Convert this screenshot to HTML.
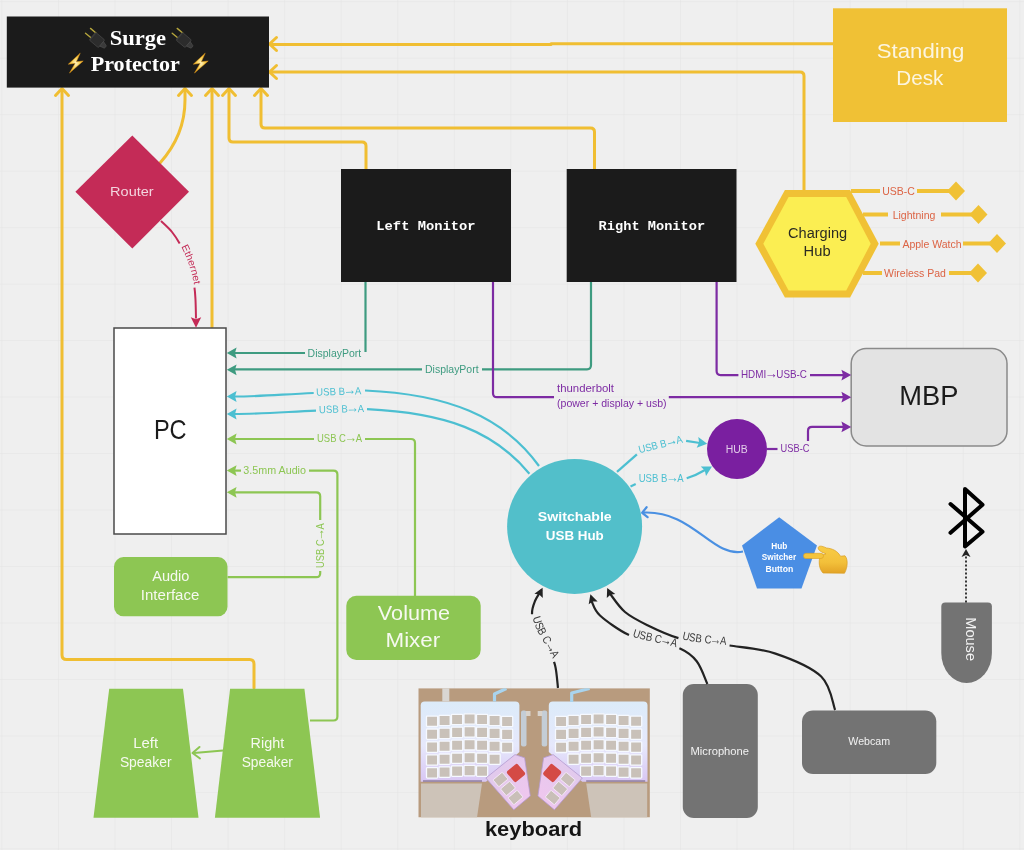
<!DOCTYPE html>
<html><head><meta charset="utf-8">
<style>
html,body{margin:0;padding:0;background:#efefef;width:1024px;height:850px;overflow:hidden}
svg{display:block;will-change:transform}
text{font-family:"Liberation Sans",sans-serif}
.mono{font-family:"Liberation Mono",monospace}
.serif{font-family:"Liberation Serif",serif}
</style></head><body>
<svg width="1024" height="850" viewBox="0 0 1024 850">
<defs>
<pattern id="grid" x="1.4" y="1.2" width="56.55" height="56.48" patternUnits="userSpaceOnUse">
<path d="M0,0 V56.48 M0,0 H56.55" stroke="#e4e4e4" stroke-width="1.2" fill="none"/>
</pattern>
</defs>
<rect x="0" y="0" width="1024" height="850" fill="#efefef"/>
<rect x="0" y="0" width="1024" height="850" fill="url(#grid)"/>

<!-- ============ YELLOW POWER LINES ============ -->
<g fill="none" stroke="#f0be32" stroke-width="3" stroke-linecap="round" stroke-linejoin="round">
<path d="M833,43.7 H551 V44.5 H272"/>
<path d="M804,190 V76 Q804,72 800,72 H272"/>
<path d="M594.5,169 V132 Q594.5,128 590.5,128 H265 Q261,128 261,124 V91"/>
<path d="M366,169 V146 Q366,142 362,142 H233 Q229,142 229,138 V91"/>
<path d="M212,327 V91"/>
<path d="M160,163 Q185,135 185,100 V91"/>
<path d="M254,688 V664 Q254,659.5 249.5,659.5 H66.5 Q62,659.5 62,655 V91"/>
<!-- arrowheads -->
<path d="M276.5,37.5 L269.5,44 L276.5,50.5"/>
<path d="M276.5,65.5 L269.5,72 L276.5,78.5"/>
<path d="M254.5,95.5 L261,88.5 L267.5,95.5"/>
<path d="M222.5,95.5 L229,88.5 L235.5,95.5"/>
<path d="M205.5,95.5 L212,88.5 L218.5,95.5"/>
<path d="M178.5,95.5 L185,88.5 L191.5,95.5"/>
<path d="M55.5,95.5 L62,88.5 L68.5,95.5"/>
</g>

<!-- ============ BOXES ============ -->
<rect x="6.8" y="16.5" width="262.2" height="71.1" fill="#1b1b1b"/>
<text x="109.67" y="44.7" font-size="20.5" class="serif" font-weight="bold" fill="#fff" textLength="56.39" lengthAdjust="spacingAndGlyphs">Surge</text>
<text x="90.67" y="70.5" font-size="20.5" class="serif" font-weight="bold" fill="#fff" textLength="89.26" lengthAdjust="spacingAndGlyphs">Protector</text>
<rect x="341" y="169" width="170" height="113" fill="#1b1b1b"/>
<text x="376.32" y="229.6" font-size="13.5" class="mono" font-weight="bold" fill="#fff" textLength="99.26" lengthAdjust="spacingAndGlyphs">Left Monitor</text>
<rect x="566.7" y="169" width="169.8" height="113" fill="#1b1b1b"/>
<text x="598.61" y="229.6" font-size="13.5" class="mono" font-weight="bold" fill="#fff" textLength="106.56" lengthAdjust="spacingAndGlyphs">Right Monitor</text>
<rect x="833" y="8.3" width="174" height="113.7" fill="#f0c135"/>
<text x="876.80" y="57.5" font-size="21" fill="#fcf5e0" textLength="87.59" lengthAdjust="spacingAndGlyphs">Standing</text>
<text x="896.35" y="84.9" font-size="21" fill="#fcf5e0" textLength="47.12" lengthAdjust="spacingAndGlyphs">Desk</text>
<polygon points="132.3,135.5 189,191.7 132.3,248.6 75.4,191.7" fill="#c42b57"/>
<text x="110.14" y="195.8" font-size="13.5" fill="#f3d5de" textLength="43.53" lengthAdjust="spacingAndGlyphs">Router</text>
<rect x="114" y="328" width="112" height="206" fill="#fff" stroke="#4a4a4a" stroke-width="1.5"/>
<text x="153.92" y="438.7" font-size="27.5" fill="#1b1b1b" textLength="32.71" lengthAdjust="spacingAndGlyphs">PC</text>
<rect x="114" y="557.1" width="113.5" height="59.1" rx="9.5" fill="#8dc653"/>
<text x="152.20" y="581" font-size="14" fill="#f6f9f0" textLength="37.22" lengthAdjust="spacingAndGlyphs">Audio</text>
<text x="140.85" y="599.9" font-size="14" fill="#f6f9f0" textLength="58.47" lengthAdjust="spacingAndGlyphs">Interface</text>
<rect x="346.3" y="595.8" width="134.4" height="64.2" rx="10" fill="#8dc653"/>
<text x="377.89" y="619.8" font-size="20.5" fill="#f6f9f0" textLength="72.19" lengthAdjust="spacingAndGlyphs">Volume</text>
<text x="385.51" y="647.2" font-size="20.5" fill="#f6f9f0" textLength="54.71" lengthAdjust="spacingAndGlyphs">Mixer</text>
<polygon points="109.2,688.7 183,688.7 198.5,817.8 93.5,817.8" fill="#8dc653"/>
<text x="133.31" y="748" font-size="14" fill="#f6f9f0" textLength="24.81" lengthAdjust="spacingAndGlyphs">Left</text>
<text x="119.88" y="766.5" font-size="14" fill="#f6f9f0" textLength="51.63" lengthAdjust="spacingAndGlyphs">Speaker</text>
<polygon points="230.1,688.7 304.4,688.7 320.1,817.8 214.9,817.8" fill="#8dc653"/>
<text x="250.55" y="748" font-size="14" fill="#f6f9f0" textLength="33.59" lengthAdjust="spacingAndGlyphs">Right</text>
<text x="241.68" y="766.5" font-size="14" fill="#f6f9f0" textLength="51.22" lengthAdjust="spacingAndGlyphs">Speaker</text>
<rect x="851.2" y="348.6" width="155.8" height="97.3" rx="15" fill="#e3e3e3" stroke="#8a8a8a" stroke-width="1.5"/>
<text x="899.21" y="404.7" font-size="27" fill="#1b1b1b" textLength="59.21" lengthAdjust="spacingAndGlyphs">MBP</text>
<polygon points="755.3,243.8 784.9,190 850.1,190 878.7,243.8 850.1,297.6 784.9,297.6" fill="#f0c135"/>
<polygon points="763.3,243.8 788.6,197 846.2,197 870.7,243.8 846.2,290.6 788.6,290.6" fill="#fbee52"/>
<text x="788.02" y="237.6" font-size="14" fill="#2b2b22" textLength="59.15" lengthAdjust="spacingAndGlyphs">Charging</text>
<text x="803.62" y="256.3" font-size="14" fill="#2b2b22" textLength="26.96" lengthAdjust="spacingAndGlyphs">Hub</text>
<circle cx="574.6" cy="526.4" r="67.5" fill="#52bfca"/>
<text x="537.88" y="521.1" font-size="13.5" font-weight="bold" fill="#fff" textLength="73.83" lengthAdjust="spacingAndGlyphs">Switchable</text>
<text x="545.80" y="539.6" font-size="13.5" font-weight="bold" fill="#fff" textLength="57.98" lengthAdjust="spacingAndGlyphs">USB Hub</text>
<circle cx="737" cy="449" r="30" fill="#7a1fa0"/>
<text x="725.77" y="452.8" font-size="10" fill="#e2cce9" textLength="21.97" lengthAdjust="spacingAndGlyphs">HUB</text>
<polygon points="779.2,517.2 817,545.5 801.5,588.5 757,588.5 742,545.5" fill="#4a8ee4"/>
<text x="771.26" y="548.8" font-size="8.3" font-weight="bold" fill="#fff" textLength="16.06" lengthAdjust="spacingAndGlyphs">Hub</text>
<text x="761.75" y="560" font-size="8.3" font-weight="bold" fill="#fff" textLength="34.35" lengthAdjust="spacingAndGlyphs">Switcher</text>
<text x="765.44" y="572" font-size="8.3" font-weight="bold" fill="#fff" textLength="27.89" lengthAdjust="spacingAndGlyphs">Button</text>
<rect x="682.8" y="684" width="75" height="134" rx="11" fill="#737373"/>
<text x="690.50" y="754.8" font-size="11" fill="#f2f2f2" textLength="58.55" lengthAdjust="spacingAndGlyphs">Microphone</text>
<rect x="802" y="710.5" width="134.3" height="63.5" rx="11" fill="#737373"/>
<text x="848.35" y="745.4" font-size="11" fill="#f2f2f2" textLength="41.82" lengthAdjust="spacingAndGlyphs">Webcam</text>
<path d="M941.3,606.6 Q941.3,602.6 945.3,602.6 H987.9 Q991.9,602.6 991.9,606.6 V653 A25.3,30 0 0 1 941.3,653 Z" fill="#737373"/>
<g transform="translate(966,0) rotate(90)"><text x="617.34" y="0" font-size="14" fill="#f2f2f2" textLength="43.67" lengthAdjust="spacingAndGlyphs">Mouse</text></g>

<!-- ============ CONNECTIONS ============ -->
<g class="lbl" font-size="10.5" paint-order="stroke" stroke="#efefef" stroke-width="7" stroke-linejoin="round">
</g>
<!-- teal displayport -->
<g fill="none" stroke="#3e9b80" stroke-width="2.2">
<path d="M365.5,282 V352"/>
<path d="M305,353 H234"/>
<path d="M591,282 V365 Q591,369.3 587,369.3 H482"/>
<path d="M422,369.3 H234"/>
</g>
<g fill="#3e9b80">
<path d="M226.8,353.0 L236.6,347.6 L235.0,353.0 L236.6,358.4 Z"/>
<path d="M226.8,369.8 L236.6,364.4 L235.0,369.8 L236.6,375.2 Z"/>
</g>
<g font-size="10.5" fill="#3e9b80">
<text x="307.6" y="356.8" textLength="53.6" lengthAdjust="spacingAndGlyphs">DisplayPort</text>
<text x="425" y="373.4" textLength="53.6" lengthAdjust="spacingAndGlyphs">DisplayPort</text>
</g>
<!-- cyan usb b -->
<g fill="none" stroke="#4cbfd1" stroke-width="2.2">
<path d="M539,466 C503,416 447,394 365,390.5"/>
<path d="M313.7,393 C280,394.5 260,396.5 234,396.5"/>
<path d="M529.4,473.7 C494,431 446,413 367,409.2"/>
<path d="M316,410.6 C285,412 260,414 234,414"/>
<path d="M617,471.8 L636.9,454.3"/>
<path d="M686.1,440.8 L700,443"/>
<path d="M630.5,486.5 L635.7,484.1"/>
<path d="M686.7,478.3 C694,476 700,473 705,470"/>
</g>
<g fill="#4cbfd1">
<path d="M226.8,396.5 L236.6,391.1 L235.0,396.5 L236.6,401.9 Z"/>
<path d="M226.8,414.0 L236.6,408.6 L235.0,414.0 L236.6,419.4 Z"/>
<path d="M707.2,443.8 L696.7,447.7 L699.1,442.6 L698.3,437.0 Z"/>
<path d="M712.0,466.6 L706.0,476.1 L704.8,470.6 L700.8,466.6 Z"/>
</g>
<g font-size="10.5" fill="#4cbfd1">
<text x="338.7" y="395" text-anchor="middle" textLength="45" lengthAdjust="spacingAndGlyphs" transform="rotate(-2 338.7 391)">USB B<tspan font-size="14" dx="-1.6">→</tspan><tspan dx="-1.6">A</tspan></text>
<text x="341.5" y="412.6" text-anchor="middle" textLength="45" lengthAdjust="spacingAndGlyphs" transform="rotate(-1.5 341.5 409)">USB B<tspan font-size="14" dx="-1.6">→</tspan><tspan dx="-1.6">A</tspan></text>
<text x="660.3" y="448" text-anchor="middle" textLength="45" lengthAdjust="spacingAndGlyphs" transform="rotate(-14 660.3 444)">USB B<tspan font-size="14" dx="-1.6">→</tspan><tspan dx="-1.6">A</tspan></text>
<text x="661.2" y="482.4" text-anchor="middle" textLength="45" lengthAdjust="spacingAndGlyphs">USB B<tspan font-size="14" dx="-1.6">→</tspan><tspan dx="-1.6">A</tspan></text>
</g>
<!-- green -->
<g fill="none" stroke="#8dc653" stroke-width="2.2">
<path d="M415,596 V443 Q415,439 411,439 H365"/>
<path d="M314,439 H234"/>
<path d="M310,720.5 H333.4 Q337.4,720.5 337.4,716.5 V474.6 Q337.4,470.6 333.4,470.6 H309"/>
<path d="M241,470.6 H234"/>
<path d="M227.6,577.2 H316.2 Q320.2,577.2 320.2,573.2 V571"/>
<path d="M320.2,520 V496.3 Q320.2,492.3 316.2,492.3 H234"/>
<path d="M223,750.5 L194,753"/>
</g>
<g fill="#8dc653">
<path d="M226.8,439.0 L236.6,433.6 L235.0,439.0 L236.6,444.4 Z"/>
<path d="M226.8,470.6 L236.6,465.2 L235.0,470.6 L236.6,476.0 Z"/>
<path d="M226.8,492.3 L236.6,486.9 L235.0,492.3 L236.6,497.7 Z"/>
</g>
<path d="M199.5,747 L192.5,753 L200,758.5" fill="none" stroke="#8dc653" stroke-width="2" stroke-linecap="round" stroke-linejoin="round"/>
<g font-size="10.5" fill="#8dc653">
<text x="339.5" y="442" text-anchor="middle" textLength="45" lengthAdjust="spacingAndGlyphs">USB C<tspan font-size="14" dx="-1.6">→</tspan><tspan dx="-1.6">A</tspan></text>
<text x="243.3" y="474.2" textLength="62.7" lengthAdjust="spacingAndGlyphs">3.5mm Audio</text>
<text x="0" y="0" text-anchor="middle" textLength="44.7" lengthAdjust="spacingAndGlyphs" transform="translate(324,545.6) rotate(-90)">USB C<tspan font-size="14" dx="-1.6">→</tspan><tspan dx="-1.6">A</tspan></text>
</g>
<!-- purple -->
<g fill="none" stroke="#7d2ba3" stroke-width="2.2">
<path d="M493,282 V393.2 Q493,397.2 497,397.2 H554"/>
<path d="M668.8,397.2 H843"/>
<path d="M716.6,282 V371.1 Q716.6,375.1 720.6,375.1 H738.4"/>
<path d="M810,375.1 H843"/>
<path d="M766.6,449 H777.5"/>
<path d="M808,441 V430.9 Q808,426.9 812,426.9 H843"/>
</g>
<g fill="#7d2ba3">
<path d="M851.2,375.1 L841.4,380.5 L843.0,375.1 L841.4,369.7 Z"/>
<path d="M851.2,397.2 L841.4,402.6 L843.0,397.2 L841.4,391.8 Z"/>
<path d="M851.2,426.9 L841.4,432.3 L843.0,426.9 L841.4,421.5 Z"/>
</g>
<g font-size="10.5" fill="#7d2ba3">
<text x="741" y="378.2" textLength="66" lengthAdjust="spacingAndGlyphs">HDMI<tspan font-size="14" dx="-1.6">→</tspan><tspan dx="-1.6">USB-C</tspan></text>
<text x="557" y="392.3" textLength="57" lengthAdjust="spacingAndGlyphs">thunderbolt</text>
<text x="557" y="407.3" textLength="109.6" lengthAdjust="spacingAndGlyphs">(power + display + usb)</text>
<text x="780.6" y="452.4" textLength="28.8" lengthAdjust="spacingAndGlyphs">USB-C</text>
</g>
<!-- red ethernet + black usb c -->
<path id="ethp" d="M161.0,221.0 C162.8,222.8 168.7,227.8 172.0,232.0 C175.3,236.2 178.2,240.5 181.0,246.0 C183.8,251.5 186.8,258.5 189.0,265.0 C191.2,271.5 192.9,279.2 194.0,285.0 C195.1,290.8 195.2,294.4 195.5,300.0 C195.8,305.6 195.9,315.4 196.0,318.5" fill="none" stroke="#c42b57" stroke-width="2.0" stroke-dasharray="29.5 46.5 1000"/>
<text font-size="10" fill="#c42b57"><textPath href="#ethp" startOffset="33" textLength="40" lengthAdjust="spacingAndGlyphs" dy="4.2">Ethernet</textPath></text>
<path id="kbp" d="M541.5,590.0 C540.4,591.8 536.6,597.0 535.0,601.0 C533.4,605.0 531.7,609.2 532.0,614.0 C532.3,618.8 534.3,624.0 537.0,630.0 C539.7,636.0 545.0,644.2 548.0,650.0 C551.0,655.8 553.3,658.7 555.0,665.0 C556.7,671.3 557.5,684.2 558.0,688.0" fill="none" stroke="#222" stroke-width="2.2" stroke-dasharray="26.5 52.8 1000"/>
<text font-size="11.5" fill="#3a3a3a"><textPath href="#kbp" startOffset="30.0" textLength="45.8" lengthAdjust="spacingAndGlyphs" dy="4.6">USB C<tspan font-size="14" dx="-1.6">→</tspan><tspan dx="-1.6">A</tspan></textPath></text>
<path id="micp" d="M591.5,601.0 C592.9,603.4 593.9,609.9 600.0,615.5 C606.1,621.1 619.0,630.2 628.0,634.6 C637.0,639.0 645.3,639.7 654.0,642.0 C662.7,644.3 672.9,645.4 680.0,648.6 C687.1,651.8 692.1,655.4 696.7,661.3 C701.3,667.2 705.6,680.2 707.4,684.0" fill="none" stroke="#222" stroke-width="2.2" stroke-dasharray="52.0 52.2 1000"/>
<text font-size="11.5" fill="#3a3a3a"><textPath href="#micp" startOffset="55.5" textLength="45.2" lengthAdjust="spacingAndGlyphs" dy="4.6">USB C<tspan font-size="14" dx="-1.6">→</tspan><tspan dx="-1.6">A</tspan></textPath></text>
<path id="webp" d="M609.5,593.0 C612.1,596.2 618.5,606.5 625.0,612.0 C631.5,617.5 639.7,621.4 648.5,625.7 C657.3,630.0 668.5,635.0 677.7,637.9 C687.0,640.8 695.3,641.7 704.0,643.0 C712.7,644.3 717.8,643.7 729.7,645.5 C741.6,647.3 760.2,648.4 775.5,653.6 C790.8,658.8 811.3,667.1 821.2,676.5 C831.1,685.9 832.8,704.4 835.1,710.0" fill="none" stroke="#222" stroke-width="2.2" stroke-dasharray="84.2 51.8 1000"/>
<text font-size="11.5" fill="#3a3a3a"><textPath href="#webp" startOffset="87.8" textLength="44.8" lengthAdjust="spacingAndGlyphs" dy="4.6">USB C<tspan font-size="14" dx="-1.6">→</tspan><tspan dx="-1.6">A</tspan></textPath></text>
<g fill="#c42b57"><path d="M196.0,327.8 L190.8,317.3 L196.0,319.3 L201.2,317.3 Z"/></g>
<g fill="#222">
<path d="M542.6,587.8 L542.8,598.0 L539.2,594.5 L534.4,593.7 Z"/>
<path d="M590.4,594.3 L597.6,601.4 L592.7,601.4 L588.7,604.3 Z"/>
<path d="M607.2,587.9 L615.3,594.0 L610.4,594.7 L606.8,598.0 Z"/>
</g>
<!-- blue -->
<path d="M743,551.5 C712,558 693,510 643,512.6" fill="none" stroke="#4a90e2" stroke-width="2.2"/>
<path d="M646.6,507.2 L642.2,512.8 L647.6,517.2" fill="none" stroke="#4a90e2" stroke-width="2.2" stroke-linecap="round" stroke-linejoin="round"/>

<!-- charge lines -->
<g stroke="#f0c135" stroke-width="4" fill="none">
<path d="M851,191 H880 M917,191 H950"/>
<path d="M863,214.5 H888 M941,214.5 H972"/>
<path d="M880,243.5 H900 M963,243.5 H990"/>
<path d="M863,273 H882 M949,273 H972"/>
</g>
<g fill="#f0c135">
<polygon points="947,191 956,181.5 965,191 956,200.5"/>
<polygon points="969.5,214.5 978.5,205 987.5,214.5 978.5,224"/>
<polygon points="988,243.5 997,234 1006,243.5 997,253"/>
<polygon points="969,273 978,263.5 987,273 978,282.5"/>
</g>
<g font-size="10.5" fill="#dc6445" text-anchor="middle">
<text x="898.6" y="195">USB-C</text>
<text x="914" y="218.5">Lightning</text>
<text x="932" y="247.5">Apple Watch</text>
<text x="915" y="277">Wireless Pad</text>
</g>

<!-- ============ KEYBOARD ============ -->
<defs>
<linearGradient id="kbbody" x1="0" y1="0" x2="0" y2="1">
<stop offset="0" stop-color="#dcebf9"/>
<stop offset="0.55" stop-color="#e6e8fc"/>
<stop offset="1" stop-color="#d8c6f3"/>
</linearGradient>
<linearGradient id="thumbg" x1="0" y1="0" x2="1" y2="1">
<stop offset="0" stop-color="#dccbec"/>
<stop offset="1" stop-color="#f2c6ef"/>
</linearGradient>
<clipPath id="kbclip"><rect x="418.3" y="688.2" width="231.6" height="129.3"/></clipPath>
</defs>
<g clip-path="url(#kbclip)">
<rect x="418.3" y="688.2" width="231.6" height="129.3" fill="#b89b7e"/>
<g id="kbhalf">
<rect x="521" y="710.4" width="5.5" height="36" rx="2" fill="#c4cdd6"/>
<rect x="526" y="711" width="4.5" height="5" fill="#d9d3cc"/>
<path d="M424.7,701.5 H515.4 Q519.4,701.5 519.4,705.5 V752 L486,781.8 H420.7 V705.5 Q420.7,701.5 424.7,701.5 Z" fill="url(#kbbody)"/>
<rect x="426.5" y="716.1" width="11.2" height="10.4" rx="0.8" fill="#c9c1b9" stroke="#f6f9ff" stroke-width="1.3"/>
<rect x="439.0" y="715.3" width="11.2" height="10.4" rx="0.8" fill="#c9c1b9" stroke="#f6f9ff" stroke-width="1.3"/>
<rect x="451.5" y="714.3" width="11.2" height="10.4" rx="0.8" fill="#c9c1b9" stroke="#f6f9ff" stroke-width="1.3"/>
<rect x="464.0" y="713.8" width="11.2" height="10.4" rx="0.8" fill="#c9c1b9" stroke="#f6f9ff" stroke-width="1.3"/>
<rect x="476.5" y="714.3" width="11.2" height="10.4" rx="0.8" fill="#c9c1b9" stroke="#f6f9ff" stroke-width="1.3"/>
<rect x="489.0" y="715.3" width="11.2" height="10.4" rx="0.8" fill="#c9c1b9" stroke="#f6f9ff" stroke-width="1.3"/>
<rect x="501.5" y="716.3" width="11.2" height="10.4" rx="0.8" fill="#c9c1b9" stroke="#f6f9ff" stroke-width="1.3"/>
<rect x="426.5" y="729.0" width="11.2" height="10.4" rx="0.8" fill="#c9c1b9" stroke="#f6f9ff" stroke-width="1.3"/>
<rect x="439.0" y="728.2" width="11.2" height="10.4" rx="0.8" fill="#c9c1b9" stroke="#f6f9ff" stroke-width="1.3"/>
<rect x="451.5" y="727.2" width="11.2" height="10.4" rx="0.8" fill="#c9c1b9" stroke="#f6f9ff" stroke-width="1.3"/>
<rect x="464.0" y="726.7" width="11.2" height="10.4" rx="0.8" fill="#c9c1b9" stroke="#f6f9ff" stroke-width="1.3"/>
<rect x="476.5" y="727.2" width="11.2" height="10.4" rx="0.8" fill="#c9c1b9" stroke="#f6f9ff" stroke-width="1.3"/>
<rect x="489.0" y="728.2" width="11.2" height="10.4" rx="0.8" fill="#c9c1b9" stroke="#f6f9ff" stroke-width="1.3"/>
<rect x="501.5" y="729.2" width="11.2" height="10.4" rx="0.8" fill="#c9c1b9" stroke="#f6f9ff" stroke-width="1.3"/>
<rect x="426.5" y="741.9" width="11.2" height="10.4" rx="0.8" fill="#c9c1b9" stroke="#f6f9ff" stroke-width="1.3"/>
<rect x="439.0" y="741.1" width="11.2" height="10.4" rx="0.8" fill="#c9c1b9" stroke="#f6f9ff" stroke-width="1.3"/>
<rect x="451.5" y="740.1" width="11.2" height="10.4" rx="0.8" fill="#c9c1b9" stroke="#f6f9ff" stroke-width="1.3"/>
<rect x="464.0" y="739.6" width="11.2" height="10.4" rx="0.8" fill="#c9c1b9" stroke="#f6f9ff" stroke-width="1.3"/>
<rect x="476.5" y="740.1" width="11.2" height="10.4" rx="0.8" fill="#c9c1b9" stroke="#f6f9ff" stroke-width="1.3"/>
<rect x="489.0" y="741.1" width="11.2" height="10.4" rx="0.8" fill="#c9c1b9" stroke="#f6f9ff" stroke-width="1.3"/>
<rect x="501.5" y="742.1" width="11.2" height="10.4" rx="0.8" fill="#c9c1b9" stroke="#f6f9ff" stroke-width="1.3"/>
<rect x="426.5" y="754.8" width="11.2" height="10.4" rx="0.8" fill="#c9c1b9" stroke="#f6f9ff" stroke-width="1.3"/>
<rect x="439.0" y="754.0" width="11.2" height="10.4" rx="0.8" fill="#c9c1b9" stroke="#f6f9ff" stroke-width="1.3"/>
<rect x="451.5" y="753.0" width="11.2" height="10.4" rx="0.8" fill="#c9c1b9" stroke="#f6f9ff" stroke-width="1.3"/>
<rect x="464.0" y="752.5" width="11.2" height="10.4" rx="0.8" fill="#c9c1b9" stroke="#f6f9ff" stroke-width="1.3"/>
<rect x="476.5" y="753.0" width="11.2" height="10.4" rx="0.8" fill="#c9c1b9" stroke="#f6f9ff" stroke-width="1.3"/>
<rect x="489.0" y="754.0" width="11.2" height="10.4" rx="0.8" fill="#c9c1b9" stroke="#f6f9ff" stroke-width="1.3"/>
<rect x="426.5" y="767.7" width="11.2" height="10.4" rx="0.8" fill="#c9c1b9" stroke="#f6f9ff" stroke-width="1.3"/>
<rect x="439.0" y="766.9" width="11.2" height="10.4" rx="0.8" fill="#c9c1b9" stroke="#f6f9ff" stroke-width="1.3"/>
<rect x="451.5" y="765.9" width="11.2" height="10.4" rx="0.8" fill="#c9c1b9" stroke="#f6f9ff" stroke-width="1.3"/>
<rect x="464.0" y="765.4" width="11.2" height="10.4" rx="0.8" fill="#c9c1b9" stroke="#f6f9ff" stroke-width="1.3"/>
<rect x="476.5" y="765.9" width="11.2" height="10.4" rx="0.8" fill="#c9c1b9" stroke="#f6f9ff" stroke-width="1.3"/>
<path d="M421,783.4 H482 L477,817.5 H421 Z" fill="#cdc3b8"/>
<path d="M423,781 H482" stroke="#6a5a7a" stroke-width="1" fill="none"/>
<polygon points="515,754.6 524.6,757.8 530.3,795.9 513.8,809.8 485.9,778" fill="url(#thumbg)" stroke="#b49ad0" stroke-width="0.8"/>
<g transform="rotate(-40 516 773)"><rect x="509" y="766" width="14" height="14" rx="2" fill="#d44a45"/></g>
<g transform="rotate(-40 500.5 779.5)"><rect x="494.5" y="775" width="12" height="9" rx="0.8" fill="#c9bfb8" stroke="#f7ecfb" stroke-width="0.8"/></g>
<g transform="rotate(-40 508 788.5)"><rect x="502" y="784" width="12" height="9" rx="0.8" fill="#c9bfb8" stroke="#f7ecfb" stroke-width="0.8"/></g>
<g transform="rotate(-40 515.5 797.5)"><rect x="509.5" y="793" width="12" height="9" rx="0.8" fill="#c9bfb8" stroke="#f7ecfb" stroke-width="0.8"/></g>
</g>
<use href="#kbhalf" transform="translate(1068.2,0) scale(-1,1)"/>
<rect x="442.3" y="688" width="7" height="13.5" fill="#d9d6d2"/>
<path d="M494.5,701.5 V694 L506.4,688.5" stroke="#a9d4ee" stroke-width="3.2" fill="none" stroke-linejoin="round"/>
<path d="M571.7,702 V693 L589.6,688.5" stroke="#a9d4ee" stroke-width="3.2" fill="none" stroke-linejoin="round"/>
</g>
<text x="484.97" y="835.5" font-size="21" font-weight="bold" fill="#151515" textLength="97.18" lengthAdjust="spacingAndGlyphs">keyboard</text>

<!-- ============ ICONS ============ -->
<!-- plugs -->
<g id="plug">
<path d="M85.5,33.2 L91,37.8 M90.5,28.4 L96,33" stroke="#b6a63c" stroke-width="1.4" stroke-linecap="round"/>
<g transform="rotate(40 97 40)">
<rect x="91" y="35" width="12" height="10" rx="1.2" fill="#2c2c2c" stroke="#484848" stroke-width="0.7"/>
<path d="M91.5,35.5 V44.5" stroke="#3c3c3c" stroke-width="1.2"/>
<path d="M103,37 L108,38.5 L108,41.5 L103,43 Z" fill="#3a3a3a" stroke="#555" stroke-width="0.5"/>
</g>
</g>
<use href="#plug" transform="translate(86.7,0)"/>
<!-- lightning -->
<defs><radialGradient id="boltg" cx="0.5" cy="0.5" r="0.55"><stop offset="0" stop-color="#fff4c8"/><stop offset="0.45" stop-color="#f9d35a"/><stop offset="1" stop-color="#eba21c"/></radialGradient></defs>
<path id="bolt" d="M80.2,53.2 L68.3,64.2 L75.2,63.3 L69.5,73 L83.2,61 L76.3,61.8 Z" fill="url(#boltg)" stroke="#e59a18" stroke-width="0.5" stroke-linejoin="round"/>
<use href="#bolt" transform="translate(125,0)"/>

<!-- bluetooth -->
<path d="M950.5,504 L982.5,531.7 L965,546.5 V489 L982.5,504.7 L950.5,532.8" fill="none" stroke="#000" stroke-width="4" stroke-linecap="round" stroke-linejoin="round"/>
<!-- dotted line to mouse -->
<path d="M966,602.5 V555" stroke="#222" stroke-width="1.8" stroke-dasharray="2,2" fill="none"/>
<path d="M966,549 L961.5,557 L966,555 L970.5,557 Z" fill="#222"/>

<!-- pointing hand -->
<defs><linearGradient id="handg" x1="0" y1="0" x2="0" y2="1"><stop offset="0" stop-color="#f8cc45"/><stop offset="0.6" stop-color="#f3c03a"/><stop offset="1" stop-color="#e3a326"/></linearGradient></defs>
<g>
<path d="M820,556 C818.5,562 819,569 823,573 L844.5,573.2 C848,567 848,559 845,555.8 L840.5,556.2 C837.5,551 832.5,548.5 826.5,548 C821.5,545.5 818.3,545.5 818.2,548 C818.2,550.5 822,552.5 826,553.8 Z" fill="url(#handg)" stroke="#d99e22" stroke-width="0.7"/>
<rect x="803.5" y="553.3" width="20" height="5.2" rx="2.6" fill="#f5c43c" stroke="#d99e22" stroke-width="0.6"/>
</g>

</svg>
</body></html>
